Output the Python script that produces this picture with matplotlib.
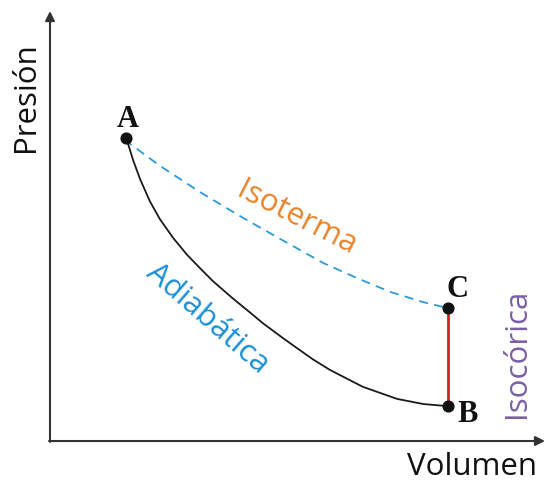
import matplotlib.pyplot as plt
import numpy as np

v_adiab = [1.54, 1.68, 1.82, 2.02, 2.22, 2.49, 2.77, 3.03, 3.29, 3.70, 4.04, 4.30,
           4.71, 4.99, 5.31, 5.66, 6.32, 7.01, 7.54, 8.04]
p_adiab = [7.05, 6.53, 6.09, 5.57, 5.16, 4.72, 4.33, 4.02, 3.72, 3.31, 2.99, 2.74,
           2.39, 2.16, 1.90, 1.65, 1.26, 0.98, 0.86, 0.81]

v_iso = [1.54, 1.62, 2.22, 3.03, 3.84, 4.65, 5.52, 6.20, 6.87, 7.54, 8.04]
p_iso = [7.05, 6.91, 6.40, 5.79, 5.23, 4.70, 4.14, 3.79, 3.47, 3.23, 3.09]

puntos = ['A', 'B', 'C']
v_puntos = [1.54, 8.04, 8.04]
p_puntos = [7.05, 0.81, 3.09]

if __name__ == '__main__':
    fig = plt.figure(figsize=(5.46, 4.85), dpi=100)
    ax = fig.add_axes([0, 0, 1, 1])
    ax.set_xlim(-1.01, 10.02)
    ax.set_ylim(-1.0, 10.28)
    ax.axis('off')

    # ejes con flechas
    ax.annotate('', xy=(0, 10.0), xytext=(0, -0.02), annotation_clip=False,
                arrowprops=dict(arrowstyle='-|>', color='#333333', lw=1.5,
                                mutation_scale=14, shrinkA=0, shrinkB=0))
    ax.annotate('', xy=(10.0, 0), xytext=(-0.02, 0), annotation_clip=False,
                arrowprops=dict(arrowstyle='-|>', color='#333333', lw=1.5,
                                mutation_scale=14, shrinkA=0, shrinkB=0))

    ax.plot(v_adiab, p_adiab, color='#1a1a1a', lw=1.3, solid_joinstyle='round')
    ax.plot(v_iso, p_iso, color='#2a9ad8', lw=1.3, ls=(0, (5, 3.5)))
    ax.plot([v_puntos[2], v_puntos[1]], [p_puntos[2], p_puntos[1]], color='#d42020', lw=2)
    ax.scatter(v_puntos, p_puntos, s=60, color='#111111', zorder=5)

    serif = dict(family='Liberation Serif', fontweight='bold', fontsize=22, color='#111111')
    ax.text(1.58, 7.5, puntos[0], ha='center', va='center', **serif)
    ax.text(8.44, 0.65, puntos[1], ha='center', va='center', **serif)
    ax.text(8.24, 3.55, puntos[2], ha='center', va='center', **serif)

    sans = dict(family='Open Sans', fontsize=22.5)
    ax.text(-0.49, 8.03, 'Presión', rotation=90, ha='center', va='center', color='#111111', **sans)
    ax.text(8.52, -0.58, 'Volumen', ha='center', va='center', color='#111111', **sans)
    ax.text(4.99, 5.21, 'Isoterma', rotation=-27, ha='center', va='center', color='#e8832a', **sans)
    ax.text(3.19, 2.88, 'Adiabática', rotation=-41, ha='center', va='center', color='#1a90d8', **sans)
    ax.text(9.43, 2.05, 'Isocórica', rotation=90, ha='center', va='center', color='#7a5fa8', **sans)

    plt.savefig('out.png', dpi=100)
